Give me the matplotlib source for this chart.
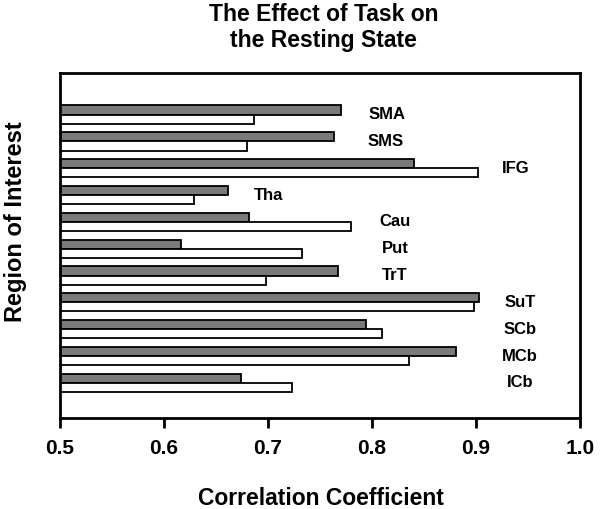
import numpy as np
import matplotlib
matplotlib.use("Agg")
import matplotlib.pyplot as plt

plt.rcParams['font.family'] = ['Liberation Sans', 'DejaVu Sans']
plt.rcParams['font.weight'] = 'bold'

# regions of interest, top to bottom
regions = ['SMA', 'SMS', 'IFG', 'Tha', 'Cau', 'Put', 'TrT', 'SuT', 'SCb', 'MCb', 'ICb']
# correlation coefficients
gray_vals = [0.770, 0.763, 0.840, 0.662, 0.682, 0.616, 0.767, 0.903, 0.794, 0.881, 0.674]
white_vals = [0.687, 0.680, 0.902, 0.629, 0.780, 0.733, 0.698, 0.898, 0.810, 0.836, 0.723]
# where the region names sit along the x axis
label_x = [0.814, 0.813, 0.938, 0.701, 0.822, 0.822, 0.822, 0.942, 0.942, 0.942, 0.942]
xticks = [0.5, 0.6, 0.7, 0.8, 0.9, 1.0]

fig = plt.figure(figsize=(6.0, 5.09), dpi=100)
ax = fig.add_axes([0.1, 0.1788, 0.8667, 0.6778])

y = np.arange(len(regions))
h = 0.34
left = 0.5
ax.barh(y - h / 2, np.array(gray_vals) - left, left=left, height=h,
        color='#7a7a7a', edgecolor='black', linewidth=1.3)
ax.barh(y + h / 2, np.array(white_vals) - left, left=left, height=h,
        color='white', edgecolor='black', linewidth=1.3)

for yi, name, lx in zip(y, regions, label_x):
    ax.text(lx, yi, name, ha='center', va='center', fontsize=12, fontweight='bold')

ax.set_xlim(0.5, 1.0)
ax.set_ylim(len(regions) - 1 + 1.31, -1.55)
ax.set_xticks(xticks)
ax.set_xticklabels(['%.1f' % t for t in xticks], fontsize=15, fontweight='bold')
ax.set_yticks([])
ax.tick_params(axis='x', length=7, width=2, pad=8)
for s in ax.spines.values():
    s.set_linewidth(2)

fig.text(0.535, 0.008, 'Correlation Coefficient', ha='center', va='baseline',
         fontsize=16.5, fontweight='bold')
fig.text(0.026, 0.564, 'Region of Interest', rotation=90, ha='center', va='center',
         fontsize=17, fontweight='bold')
fig.text(0.539, 0.946, 'The Effect of Task on\nthe Resting State', ha='center', va='center',
         fontsize=16.5, fontweight='bold', linespacing=1.22)

fig.savefig('out.png', dpi=100)
